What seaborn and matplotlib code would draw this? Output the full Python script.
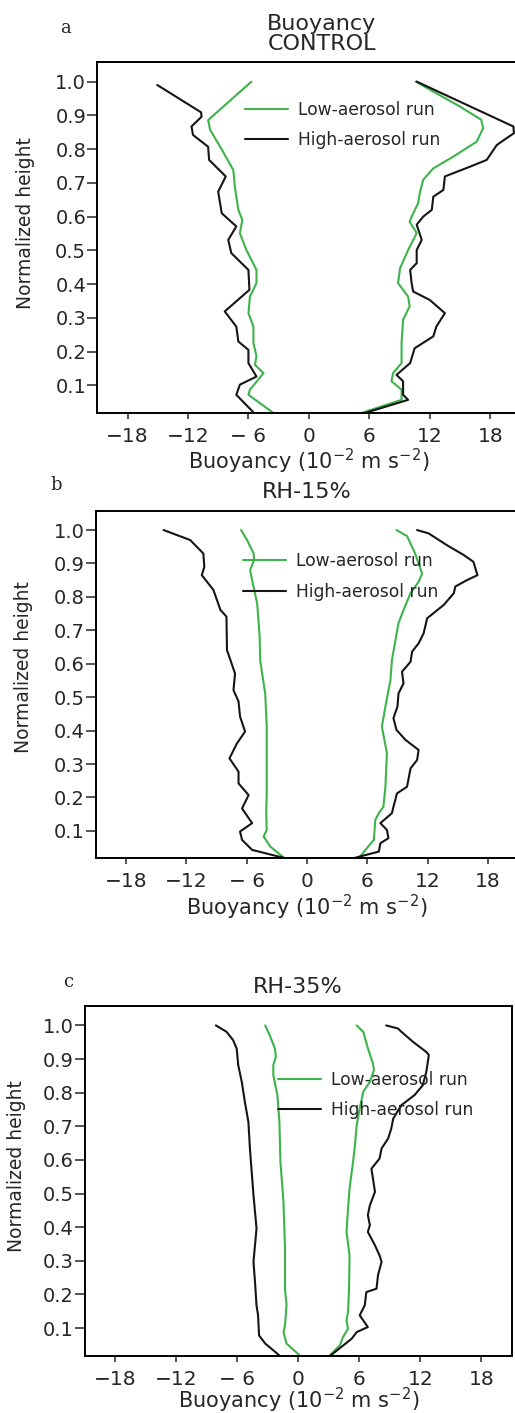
import matplotlib
matplotlib.use("Agg")
import matplotlib.pyplot as plt
import seaborn as sns
import pandas as pd

# x ticks / y ticks shared by all three panels
xtick_vals = [-18, -12, -6, 0, 6, 12, 18]
xtick_labels = ["\u221218", "\u221212", "\u2212 6", "0", "6", "12", "18"]
ytick_vals = [0.1, 0.2, 0.3, 0.4, 0.5, 0.6, 0.7, 0.8, 0.9, 1.0]
ytick_labels = ["0.1", "0.2", "0.3", "0.4", "0.5", "0.6", "0.7", "0.8", "0.9", "1.0"]

runs = ["Low-aerosol run", "High-aerosol run"]
run_colors = {"Low-aerosol run": "#3cb44b", "High-aerosol run": "#151515"}

# ---- panel a: CONTROL ----
ctrl_low_left_h = [1.0, 0.886, 0.857, 0.807, 0.738, 0.689, 0.620, 0.590, 0.551, 0.501, 0.442,
                   0.403, 0.363, 0.314, 0.274, 0.225, 0.186, 0.161, 0.136, 0.087, 0.072, 0.020]
ctrl_low_left_b = [-5.7, -10.0, -9.8, -8.8, -7.5, -7.35, -7.0, -6.6, -6.85, -6.2, -5.2,
                   -5.2, -5.85, -6.0, -5.5, -5.5, -5.2, -5.35, -4.5, -5.85, -6.0, -3.6]
ctrl_high_left_h = [0.990, 0.909, 0.896, 0.867, 0.842, 0.807, 0.768, 0.719, 0.674, 0.610, 0.571, 0.531,
                    0.492, 0.442, 0.383, 0.319, 0.274, 0.230, 0.205, 0.166, 0.126, 0.102, 0.072, 0.020]
ctrl_high_left_b = [-15.05, -10.7, -10.65, -11.65, -11.5, -10.0, -9.9, -8.25, -9.0, -8.65, -7.2, -8.0,
                    -7.7, -6.0, -5.9, -8.35, -7.2, -7.0, -6.0, -6.0, -5.2, -6.85, -7.2, -5.5]
ctrl_low_right_h = [1.0, 0.926, 0.887, 0.862, 0.822, 0.778, 0.743, 0.709, 0.669, 0.640, 0.600, 0.585, 0.551,
                    0.501, 0.447, 0.403, 0.363, 0.334, 0.294, 0.225, 0.166, 0.136, 0.112, 0.087, 0.057, 0.018]
ctrl_low_right_b = [10.6, 15.0, 17.1, 17.3, 16.65, 14.35, 12.35, 11.35, 11.0, 10.85, 10.2, 10.0, 10.7,
                    9.85, 9.05, 8.85, 9.85, 10.0, 9.35, 9.2, 9.2, 8.35, 8.2, 9.2, 9.2, 5.2]
ctrl_high_right_h = [1.0, 0.867, 0.847, 0.832, 0.812, 0.768, 0.748, 0.719, 0.679, 0.659, 0.620, 0.600, 0.576,
                     0.531, 0.501, 0.462, 0.442, 0.403, 0.378, 0.353, 0.314, 0.274, 0.245, 0.210, 0.166,
                     0.131, 0.112, 0.072, 0.057, 0.018]
ctrl_high_right_b = [10.7, 20.3, 20.35, 19.6, 18.65, 17.65, 16.0, 13.5, 13.35, 12.35, 12.2, 11.35, 10.7,
                     11.2, 10.7, 10.7, 10.05, 10.2, 10.35, 12.0, 13.5, 12.65, 12.35, 10.5, 10.05,
                     8.7, 9.35, 9.35, 9.85, 5.55]

# ---- panel b: RH-15% ----
rh15_low_left_h = [1.0, 0.970, 0.930, 0.910, 0.880, 0.850, 0.781, 0.681, 0.611, 0.511, 0.412,
                   0.312, 0.212, 0.152, 0.103, 0.083, 0.053, 0.020]
rh15_low_left_b = [-6.55, -5.95, -5.3, -5.25, -5.65, -5.45, -4.95, -4.7, -4.65, -4.15, -4.0,
                   -4.0, -4.0, -4.05, -4.0, -4.3, -3.65, -2.3]
rh15_high_left_h = [1.0, 0.970, 0.930, 0.890, 0.865, 0.821, 0.761, 0.741, 0.641, 0.571, 0.521, 0.487, 0.442,
                    0.397, 0.362, 0.317, 0.277, 0.242, 0.207, 0.167, 0.123, 0.098, 0.073, 0.043, 0.018]
rh15_high_left_b = [-14.25, -11.6, -10.3, -10.2, -10.45, -9.3, -8.6, -8.0, -7.95, -7.15, -7.3, -6.8, -6.65,
                    -6.15, -6.95, -7.7, -6.8, -6.8, -5.8, -6.45, -5.45, -6.65, -6.45, -5.45, -2.15]
rh15_low_right_h = [1.0, 0.982, 0.930, 0.870, 0.845, 0.811, 0.761, 0.721, 0.671, 0.611, 0.551,
                    0.472, 0.412, 0.332, 0.232, 0.172, 0.153, 0.133, 0.073, 0.048, 0.018]
rh15_low_right_b = [8.9, 9.95, 10.75, 11.45, 11.1, 10.3, 9.6, 9.1, 8.8, 8.45, 8.3,
                    7.8, 7.45, 7.95, 7.8, 7.6, 7.15, 6.8, 6.65, 5.95, 5.15]
rh15_high_right_h = [1.0, 0.990, 0.955, 0.925, 0.905, 0.865, 0.850, 0.831, 0.811, 0.776, 0.736, 0.691,
                     0.661, 0.636, 0.606, 0.576, 0.541, 0.511, 0.472, 0.437, 0.402, 0.372, 0.342,
                     0.312, 0.287, 0.232, 0.212, 0.172, 0.153, 0.123, 0.103, 0.078, 0.063, 0.038, 0.018]
rh15_high_right_b = [10.95, 12.1, 13.9, 15.6, 16.55, 16.95, 15.9, 14.75, 14.6, 13.6, 11.95, 11.6,
                     11.1, 10.45, 10.3, 9.45, 9.6, 9.1, 9.0, 8.6, 8.9, 9.8, 11.1,
                     10.95, 10.3, 9.95, 8.95, 8.6, 8.45, 7.3, 7.95, 8.1, 7.3, 7.15, 4.6]

# ---- panel c: RH-35% ----
rh35_low_left_h = [1.0, 0.971, 0.932, 0.907, 0.882, 0.852, 0.793, 0.713, 0.594, 0.475, 0.336,
                   0.217, 0.168, 0.108, 0.088, 0.054, 0.020]
rh35_low_left_b = [-3.25, -2.8, -2.3, -2.2, -2.45, -2.45, -2.05, -1.85, -1.75, -1.45, -1.3,
                   -1.3, -1.15, -1.3, -1.45, -1.15, 0.1]
rh35_high_left_h = [1.0, 0.981, 0.956, 0.931, 0.882, 0.832, 0.773, 0.713, 0.634, 0.574, 0.495,
                    0.396, 0.297, 0.237, 0.167, 0.138, 0.078, 0.054, 0.020]
rh35_high_left_b = [-8.1, -7.05, -6.4, -6.05, -5.9, -5.55, -5.25, -4.9, -4.75, -4.6, -4.4,
                    -4.1, -4.4, -4.25, -4.1, -3.95, -3.85, -3.25, -1.9]
rh35_low_right_h = [1.0, 0.981, 0.932, 0.887, 0.867, 0.832, 0.803, 0.753, 0.703, 0.634, 0.584,
                    0.515, 0.455, 0.386, 0.316, 0.217, 0.148, 0.123, 0.098, 0.073, 0.049, 0.019]
rh35_low_right_b = [5.75, 6.4, 6.85, 7.35, 7.45, 7.05, 6.4, 6.05, 5.75, 5.55, 5.35,
                    5.05, 4.9, 4.75, 5.05, 5.0, 4.9, 4.75, 4.9, 4.4, 4.1, 3.1]
rh35_high_right_h = [1.0, 0.991, 0.981, 0.951, 0.921, 0.912, 0.862, 0.822, 0.793, 0.763, 0.723, 0.693,
                     0.664, 0.634, 0.604, 0.574, 0.545, 0.505, 0.465, 0.436, 0.406, 0.386, 0.346,
                     0.316, 0.297, 0.257, 0.217, 0.207, 0.168, 0.138, 0.103, 0.088, 0.068, 0.044, 0.020]
rh35_high_right_b = [8.65, 9.8, 10.15, 11.3, 12.6, 12.85, 12.6, 12.25, 11.45, 10.15, 9.35, 9.15,
                     8.85, 8.2, 8.0, 7.2, 7.35, 7.55, 7.05, 6.85, 7.05, 6.85, 7.55,
                     8.0, 8.2, 7.85, 7.7, 6.7, 6.55, 6.05, 6.85, 5.75, 5.25, 4.25, 3.25]


def make_frame(curves):
    parts = []
    for h, b, run, side in curves:
        parts.append(pd.DataFrame({"height": h, "buoyancy": b, "run": run, "side": side}))
    return pd.concat(parts, ignore_index=True)


panels = [
    {
        "title": "Buoyancy\nCONTROL", "letter": "a", "title_x": 0.53,
        "rect": [0.1889, 0.7077, 0.8217, 0.2484], "leg": (0.349, 0.8205),
        "letter_xy": (65.7, 28.3), "ylab": (-0.146, 0.541), "xpad": 1,
        "df": make_frame([
            (ctrl_low_left_h, ctrl_low_left_b, runs[0], "L"),
            (ctrl_low_right_h, ctrl_low_right_b, runs[0], "R"),
            (ctrl_high_left_h, ctrl_high_left_b, runs[1], "L"),
            (ctrl_high_right_h, ctrl_high_right_b, runs[1], "R"),
        ]),
    },
    {
        "title": "RH-15%", "letter": "b", "title_x": 0.5,
        "rect": [0.1858, 0.3926, 0.8204, 0.2460], "leg": (0.349, 0.811),
        "letter_xy": (56, 485), "ylab": (-0.148, 0.551), "xpad": 1,
        "df": make_frame([
            (rh15_low_left_h, rh15_low_left_b, runs[0], "L"),
            (rh15_low_right_h, rh15_low_right_b, runs[0], "R"),
            (rh15_high_left_h, rh15_high_left_b, runs[1], "L"),
            (rh15_high_right_h, rh15_high_right_b, runs[1], "R"),
        ]),
    },
    {
        "title": "RH-35%", "letter": "c", "title_x": 0.5,
        "rect": [0.1645, 0.0406, 0.8291, 0.2475], "leg": (0.4534, 0.7455),
        "letter_xy": (68, 981.7), "ylab": (-0.138, 0.543), "xpad": -2,
        "df": make_frame([
            (rh35_low_left_h, rh35_low_left_b, runs[0], "L"),
            (rh35_low_right_h, rh35_low_right_b, runs[0], "R"),
            (rh35_high_left_h, rh35_high_left_b, runs[1], "L"),
            (rh35_high_right_h, rh35_high_right_b, runs[1], "R"),
        ]),
    },
]

sns.set_style("ticks")
plt.rcParams["font.family"] = ["DejaVu Sans"]
plt.rcParams["axes.linewidth"] = 1.3
txt = "#262626"
plt.rcParams["text.color"] = txt
plt.rcParams["axes.labelcolor"] = txt
plt.rcParams["xtick.color"] = txt
plt.rcParams["ytick.color"] = txt
plt.rcParams["xtick.labelcolor"] = txt
plt.rcParams["ytick.labelcolor"] = txt

W, H = 515, 1413
fig = plt.figure(figsize=(W / 100, H / 100), dpi=100)

for p in panels:
    ax = fig.add_axes(p["rect"])
    sns.lineplot(data=p["df"], x="buoyancy", y="height", hue="run", hue_order=runs,
                 units="side", estimator=None, sort=False, palette=run_colors,
                 linewidth=1.5, ax=ax)
    ax.set_xlim(-21, 21)
    ax.set_ylim(0.018, 1.058)
    ax.set_xticks(xtick_vals)
    ax.set_xticklabels(xtick_labels)
    ax.set_yticks(ytick_vals)
    ax.set_yticklabels(ytick_labels)
    ax.tick_params(axis="x", direction="out", length=4, width=1.1, pad=6, labelsize=14.5)
    ax.tick_params(axis="y", direction="out", length=7, width=1.1, pad=1, labelsize=14)
    for s in ax.spines.values():
        s.set_color("black")
        s.set_linewidth(1.4)
    ax.set_xlabel("Buoyancy (10$^{-2}$ m s$^{-2}$)", fontsize=15, labelpad=p["xpad"])
    ax.set_ylabel("Normalized height", fontsize=13.5)
    ax.yaxis.set_label_coords(*p["ylab"])
    ax.set_title(p["title"], fontsize=16, x=p["title_x"], pad=9, linespacing=0.95)
    sns.move_legend(ax, "center left", bbox_to_anchor=p["leg"], frameon=False, title=None,
                    fontsize=12.3, handlelength=2.5, handletextpad=0.6, labelspacing=0.75,
                    borderpad=0, borderaxespad=0)
    lx, ly = p["letter_xy"]
    fig.text(lx / W, 1 - ly / H, p["letter"], fontsize=13, family="DejaVu Serif",
             ha="center", va="center")

fig.savefig("out.png", dpi=100)
